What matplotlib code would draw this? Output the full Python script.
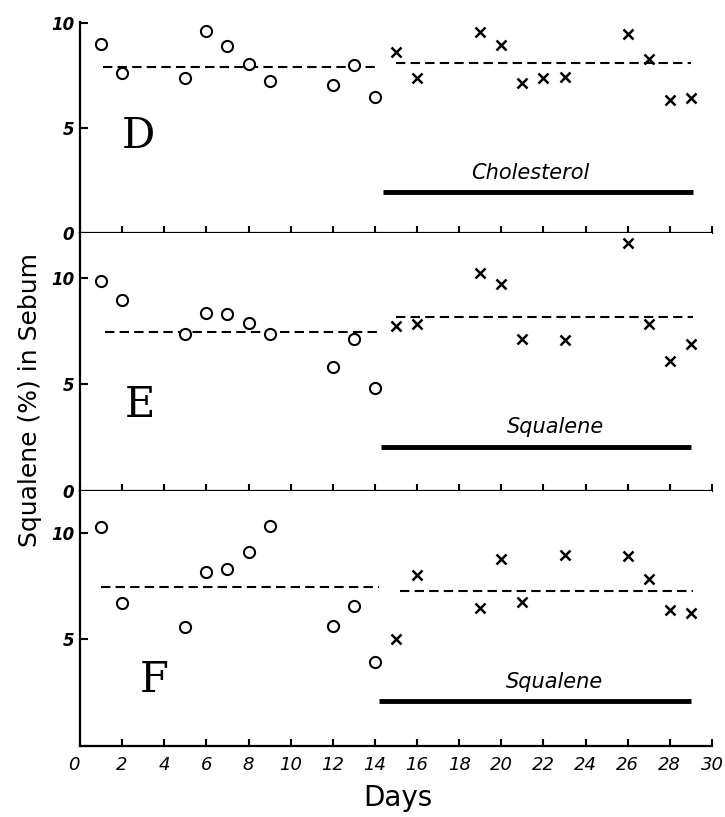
import matplotlib.pyplot as plt

# days and squalene values, per subject panel
panels = ["D", "E", "F"]
treatment = ["Cholesterol", "Squalene", "Squalene"]

pre_days_d = [1, 2, 5, 6, 7, 8, 9, 12, 13, 14]
pre_vals_d = [9.0, 7.6, 7.4, 9.6, 8.9, 8.05, 7.25, 7.05, 8.0, 6.5]
post_days_d = [15, 16, 19, 20, 21, 22, 23, 26, 27, 28, 29]
post_vals_d = [8.6, 7.4, 9.55, 8.95, 7.15, 7.4, 7.45, 9.5, 8.3, 6.35, 6.45]

pre_days_e = [1, 2, 5, 6, 7, 8, 9, 12, 13, 14]
pre_vals_e = [9.85, 8.95, 7.35, 8.35, 8.3, 7.9, 7.35, 5.8, 7.15, 4.85]
post_days_e = [15, 16, 19, 20, 21, 23, 26, 27, 28, 29]
post_vals_e = [7.75, 7.85, 10.25, 9.7, 7.15, 7.1, 11.65, 7.85, 6.1, 6.9]

pre_days_f = [1, 2, 5, 6, 7, 8, 9, 12, 13, 14]
pre_vals_f = [10.3, 6.7, 5.6, 8.15, 8.3, 9.1, 10.35, 5.65, 6.55, 3.95]
post_days_f = [15, 16, 19, 20, 21, 23, 26, 27, 28, 29]
post_vals_f = [5.0, 8.05, 6.5, 8.8, 6.75, 8.95, 8.9, 7.85, 6.4, 6.25]

# mean levels (dashed) and the day spans they cover
pre_mean = [7.9, 7.45, 7.48]
post_mean = [8.08, 8.18, 7.28]
pre_span = [(1.1, 14.0), (1.2, 14.1), (1.0, 14.2)]
post_span = [(15.0, 29.0), (15.0, 29.1), (15.2, 29.1)]
# feeding period bar
feed_span = [(14.4, 29.1), (14.3, 29.0), (14.2, 29.0)]
feed_level = [1.95, 2.08, 2.1]

pre_days = [pre_days_d, pre_days_e, pre_days_f]
pre_vals = [pre_vals_d, pre_vals_e, pre_vals_f]
post_days = [post_days_d, post_days_e, post_days_f]
post_vals = [post_vals_d, post_vals_e, post_vals_f]

W, H = 725, 817
fig = plt.figure(figsize=(W / 100, H / 100), dpi=100)

# axes boxes in pixels: (top, bottom, ymax)
boxes = [(22, 233, 10.05), (233, 491, 12.11), (491, 746, 11.97)]
x0_px, x1_px = 80, 712

for i, (top, bot, ymax) in enumerate(boxes):
    ax = fig.add_axes([x0_px / W, 1 - bot / H, (x1_px - x0_px) / W, (bot - top) / H])
    ax.set_xlim(0, 30)
    ax.set_ylim(0, ymax)
    for s in ["top", "right"]:
        ax.spines[s].set_visible(False)
    for s in ["left", "bottom"]:
        ax.spines[s].set_linewidth(1.6)

    ax.plot(pre_days[i], pre_vals[i], "o", ms=8, mfc="white", mec="black", mew=1.5,
            clip_on=False, zorder=3)
    ax.plot(post_days[i], post_vals[i], "x", ms=6.5, color="black", mew=1.8,
            clip_on=False, zorder=3)

    ax.plot(pre_span[i], [pre_mean[i]] * 2, color="black", lw=1.5, dashes=(4.5, 2.5))
    ax.plot(post_span[i], [post_mean[i]] * 2, color="black", lw=1.5, dashes=(4.5, 2.5))
    ax.plot(feed_span[i], [feed_level[i]] * 2, color="black", lw=3.5, solid_capstyle="butt")

    mid = (feed_span[i][0] + feed_span[i][1]) / 2 + (-0.4 if i == 0 else 0.9)
    ax.text(mid, feed_level[i] + 0.45, treatment[i], ha="center", va="bottom",
            fontsize=15, style="italic")
    lx = [2.75, 2.85, 3.5][i]
    ly = [4.6, 4.05, 3.1][i]
    ax.text(lx, ly, panels[i], ha="center", va="center", fontsize=30,
            family="DejaVu Serif")

    ax.set_xticks(range(0, 31, 2))
    ax.set_yticks([0, 5, 10])
    ax.tick_params(axis="both", direction="in", width=1.5)
    ax.tick_params(axis="x", length=5, pad=7)
    ax.tick_params(axis="y", length=6, pad=4)
    ylabels = ["0", "5", "10"] if i < 2 else ["", "5", "10"]
    ax.set_yticklabels(ylabels, fontsize=12, style="italic", weight="bold")
    if i < 2:
        ax.set_xticklabels([])
    else:
        xl = ax.set_xticklabels([str(d) for d in range(0, 31, 2)], fontsize=13, style="italic")
        xl[0].set_ha("right")

fig.text(30 / W, 1 - 400 / H, "Squalene (%) in Sebum", rotation=90, ha="center",
         va="center", fontsize=18)
fig.text(398 / W, 1 - 798 / H, "Days", ha="center", va="center", fontsize=20)

fig.savefig("out.png", dpi=100)
